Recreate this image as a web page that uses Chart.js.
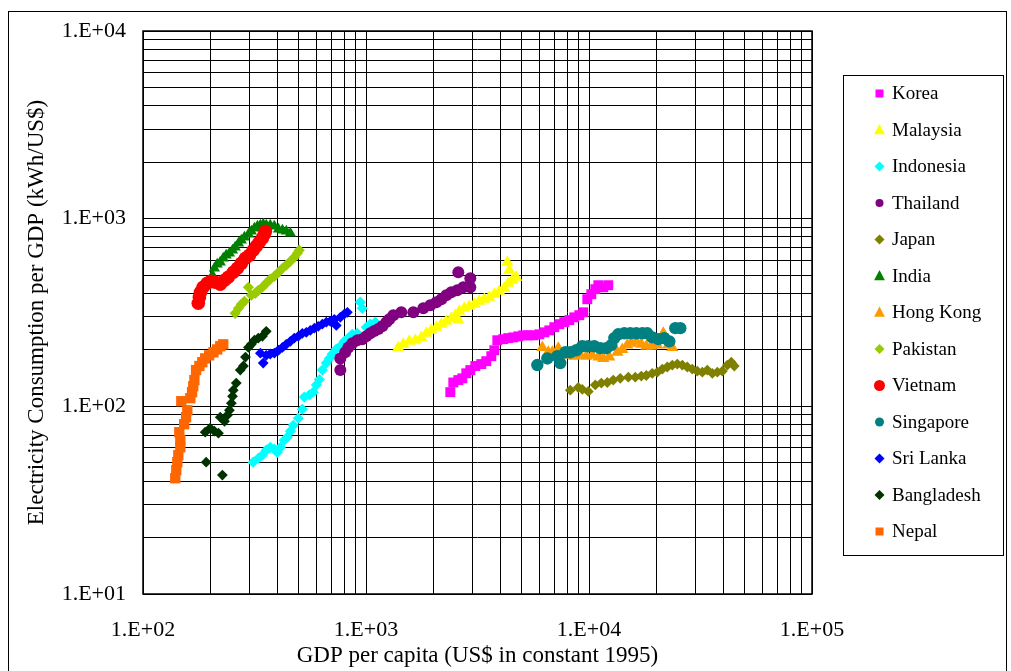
<!DOCTYPE html>
<html><head><meta charset="utf-8">
<script src="https://cdn.jsdelivr.net/npm/chart.js@4.4.1/dist/chart.umd.min.js"></script>
<style>html,body{margin:0;padding:0;background:#fff;}canvas{display:block;}</style>
</head><body>
<canvas id="c" width="1011" height="671" style="width:1011px;height:671px"></canvas>
<script>
// ---- data (GDP per capita US$, kWh/US$) ----
const countries = ['Korea','Malaysia','Indonesia','Thailand','Japan','India','Hong Kong','Pakistan','Vietnam','Singapore','Sri Lanka','Bangladesh','Nepal'];
const korea = [[2388,119],[2463,134],[2594,138],[2703,141],[2817,150],[2936,156],[3091,164],[3289,168],[3463,174],[3647,185],[3762,199],[3880,225],[4128,228],[4346,231],[4576,233],[4819,236],[5074,239],[5343,239],[5626,239],[5986,242],[6304,248],[6637,254],[6989,264],[7360,274],[7750,281],[8160,288],[8594,298],[9047,306],[9428,317],[9827,372],[10240,396],[10670,421],[11010,442],[11590,431],[12200,442]];
const malaysia = [[1396,206],[1470,214],[1564,222],[1664,225],[1770,233],[1864,245],[1963,254],[2067,264],[2177,274],[2292,284],[2413,295],[2515,306],[2594,288],[2620,321],[2760,333],[2905,341],[3060,350],[3222,363],[3393,372],[3573,381],[3762,396],[3962,410],[4172,426],[4346,453],[4530,470],[4720,487],[4391,531],[4301,586]];
const indonesia = [[312,50.4],[329,52.9],[343,54.9],[357,58.4],[372,60.5],[388,59.1],[400,56.9],[413,60.5],[430,66],[444,68.5],[458,73.7],[472,79.3],[497,86.4],[518,96.5],[529,112],[557,115],[580,119],[599,130],[618,139],[637,156],[664,170],[685,180],[706,190],[736,202],[767,209],[799,222],[833,231],[868,242],[914,245],[943,359],[962,333],[1003,264],[1045,274],[1101,281]];
const thailand = [[767,156],[767,180],[807,194],[833,206],[868,217],[914,225],[962,228],[1003,236],[1045,245],[1089,252],[1136,258],[1183,267],[1234,281],[1272,291],[1326,306],[1440,317],[1630,317],[1807,333],[1943,346],[2067,359],[2177,372],[2292,391],[2413,405],[2567,415],[2731,431],[2936,431],[2936,481],[2594,518]];
const japan = [[8243,122],[8954,126],[9333,123],[9929,120],[10670,130],[11360,133],[12080,134],[12850,138],[13810,141],[15010,143],[16130,143],[17160,145],[18070,146],[19220,150],[20250,152],[21320,158],[22450,162],[23640,166],[24890,168],[26210,166],[27590,162],[29050,158],[30590,154],[32220,152],[33930,156],[35730,150],[37620,152],[39620,154],[41720,166],[43460,172],[44830,164]];
const india = [[205,499],[209,544],[215,572],[222,586],[229,615],[236,638],[244,654],[252,679],[259,704],[268,740],[276,767],[285,796],[297,826],[306,857],[316,889],[326,911],[336,922],[346,934],[357,922],[372,922],[388,911],[405,878],[422,868],[439,857],[458,836]];
const hongKong = [[6174,206],[6569,194],[6845,194],[7282,204],[7672,190],[7993,187],[8594,185],[9141,187],[9725,185],[10340,187],[11010,183],[11590,180],[12330,183],[13400,194],[14110,201],[14850,212],[15480,217],[16300,222],[17160,214],[18070,209],[19030,209],[20250,212],[21540,245],[22680,212],[23640,206]];
const pakistan = [[259,313],[268,333],[276,350],[285,363],[297,431],[306,391],[319,400],[329,415],[343,431],[357,453],[372,476],[388,493],[405,518],[422,544],[439,565],[458,593],[477,623],[492,654],[502,679]];
const vietnam = [[177,354],[179,381],[181,405],[186,431],[194,453],[202,464],[211,458],[222,447],[232,470],[241,487],[254,518],[265,544],[276,578],[288,615],[300,638],[312,679],[322,713],[332,749],[343,786],[350,826],[354,857]];
const singapore = [[5865,166],[6501,180],[7208,185],[7434,170],[7828,194],[8243,194],[8770,199],[9333,209],[9929,209],[10560,209],[11240,204],[11960,204],[12590,212],[12990,231],[13530,242],[14400,245],[15320,245],[16300,245],[17340,245],[18260,245],[19220,233],[20460,228],[21760,231],[22920,222],[24380,261],[25670,261]];
const sriLanka = [[336,192],[346,170],[357,187],[372,190],[388,192],[405,199],[422,206],[439,214],[458,222],[477,231],[497,236],[518,245],[540,248],[563,254],[587,261],[611,267],[637,274],[664,281],[692,284],[721,291],[736,270],[767,298],[799,310],[825,317]];
const bangladesh = [[192,50.4],[227,43],[190,72.8],[200,76.4],[209,73.7],[218,71.9],[222,87.5],[232,83.3],[239,89.7],[244,95.3],[249,104],[252,113],[254,122],[262,133],[273,156],[282,164],[288,183],[297,206],[306,214],[316,225],[329,231],[343,236],[357,251]];
const nepal = [[139.5,41.4],[141,45.7],[142.5,50.4],[144,54.9],[147,60.5],[147,66],[145.5,72.8],[153,80.3],[156,87.5],[158,95.3],[148.5,106.5],[163,110.5],[166,119],[168,128],[170,138],[173,156],[179,164],[184.5,172],[190,180],[198,187],[207,194],[215,201],[222,209],[229,214]];
const seriesData = [korea, malaysia, indonesia, thailand, japan, india, hongKong, pakistan, vietnam, singapore, sriLanka, bangladesh, nepal];
const xMajorTicks = [100, 1000, 10000, 100000];
const yMajorTicks = [10, 100, 1000, 10000];

// ---- styles ----
const colors = ['#FF00FF','#FFFF00','#00FFFF','#800080','#808000','#008000','#FF9900','#99CC00','#FF0000','#008080','#0000FF','#003300','#FF6600'];
const pointStyles = ['rect','triangle','rectRot','circle','rectRot','triangle','triangle','rectRot','circle','circle','rectRot','rectRot','rect'];
const pointRadii = [7,7,5.6,6,5.4,6.5,7,5.6,6.8,6.2,5.4,5.4,7.3];
const legendSizes = [4,6,5,4,5,6,6,5,5.5,4.5,5,5,4];

function withMinors(majors){
  const out = [];
  for (let i = 0; i < majors.length; i++) {
    out.push(majors[i]);
    if (i < majors.length - 1) for (let k = 2; k <= 9; k++) out.push(majors[i] * k);
  }
  return out;
}
function sciLabel(v){
  const e = Math.round(Math.log10(v));
  if (Math.abs(v - Math.pow(10, e)) > 1e-9 * v) return '';
  return '1.E' + (e >= 0 ? '+' : '-') + String(Math.abs(e)).padStart(2, '0');
}

function drawMarker(ctx, style, s, x, y, color){
  ctx.fillStyle = color;
  ctx.beginPath();
  if (style === 'rect') { ctx.rect(x - s, y - s, 2 * s, 2 * s); }
  else if (style === 'rectRot') { ctx.moveTo(x, y - s); ctx.lineTo(x + s, y); ctx.lineTo(x, y + s); ctx.lineTo(x - s, y); ctx.closePath(); }
  else if (style === 'triangle') { ctx.moveTo(x, y - s); ctx.lineTo(x + s * 0.9, y + s * 0.7); ctx.lineTo(x - s * 0.9, y + s * 0.7); ctx.closePath(); }
  else { ctx.arc(x, y, s, 0, Math.PI * 2); }
  ctx.fill();
}

const framePlugin = {
  id: 'frame',
  beforeDraw(chart){
    const ctx = chart.ctx;
    ctx.save();
    ctx.fillStyle = '#fff';
    ctx.fillRect(0, 0, chart.width, chart.height);
    ctx.strokeStyle = '#000';
    ctx.lineWidth = 1;
    ctx.strokeRect(8.5, 11.5, 998, 700);
    ctx.restore();
  },
  afterDraw(chart){
    const ctx = chart.ctx, a = chart.chartArea;
    ctx.save();
    ctx.strokeStyle = '#000';
    ctx.lineWidth = 1.5;
    ctx.strokeRect(a.left, a.top, a.right - a.left, a.bottom - a.top);
    ctx.lineWidth = 1;
    ctx.strokeRect(843.5, 75.5, 160, 480);
    ctx.font = '19px "Liberation Serif", "Times New Roman", serif';
    ctx.textBaseline = 'middle';
    ctx.textAlign = 'left';
    chart.data.datasets.forEach((ds, i) => {
      const y = 93.5 + i * 36.5;
      drawMarker(ctx, pointStyles[i], legendSizes[i], 879.5, y, ds.backgroundColor);
      ctx.fillStyle = '#000';
      ctx.fillText(ds.label, 892, y + 1);
    });
    ctx.restore();
  }
};

Chart.defaults.font.family = '"Liberation Serif", "Times New Roman", serif';
Chart.defaults.color = '#000';

const datasets = seriesData.map((d, i) => ({
  label: countries[i],
  data: d.map(p => ({x: p[0], y: p[1]})),
  backgroundColor: colors[i],
  borderColor: colors[i],
  borderWidth: 0,
  pointStyle: pointStyles[i],
  pointRadius: pointRadii[i],
  order: -i
}));

new Chart(document.getElementById('c'), {
  type: 'scatter',
  data: { datasets },
  plugins: [framePlugin],
  options: {
    responsive: false,
    animation: false,
    devicePixelRatio: 1,
    events: [],
    layout: { padding: { top: 31, right: 199, bottom: 0, left: 0 } },
    plugins: { legend: { display: false }, tooltip: { enabled: false } },
    scales: {
      x: {
        type: 'logarithmic',
        position: 'bottom',
        min: xMajorTicks[0],
        max: xMajorTicks[xMajorTicks.length - 1],
        afterBuildTicks: s => { s.ticks = withMinors(xMajorTicks).map(v => ({value: v})); },
        afterFit: s => { s.height = 77; },
        grid: { color: '#000', lineWidth: 1, drawTicks: false },
        border: { display: false },
        ticks: { autoSkip: false, maxRotation: 0, padding: 23, font: { size: 22 }, callback: v => sciLabel(v) },
        title: { display: true, text: 'GDP per capita (US$ in constant 1995)', font: { size: 23 }, padding: { top: 0, bottom: 1 } }
      },
      y: {
        type: 'logarithmic',
        position: 'left',
        min: yMajorTicks[0],
        max: yMajorTicks[yMajorTicks.length - 1],
        afterBuildTicks: s => { s.ticks = withMinors(yMajorTicks).map(v => ({value: v})); },
        afterFit: s => { s.width = 143; },
        grid: { color: '#000', lineWidth: 1, drawTicks: false },
        border: { display: false },
        ticks: { autoSkip: false, padding: 17, font: { size: 22 }, callback: v => sciLabel(v) },
        title: { display: true, text: 'Electricity Consumption per GDP (kWh/US$)', font: { size: 23 }, padding: { top: 23, bottom: 0 } }
      }
    }
  }
});
</script>
</body></html>
